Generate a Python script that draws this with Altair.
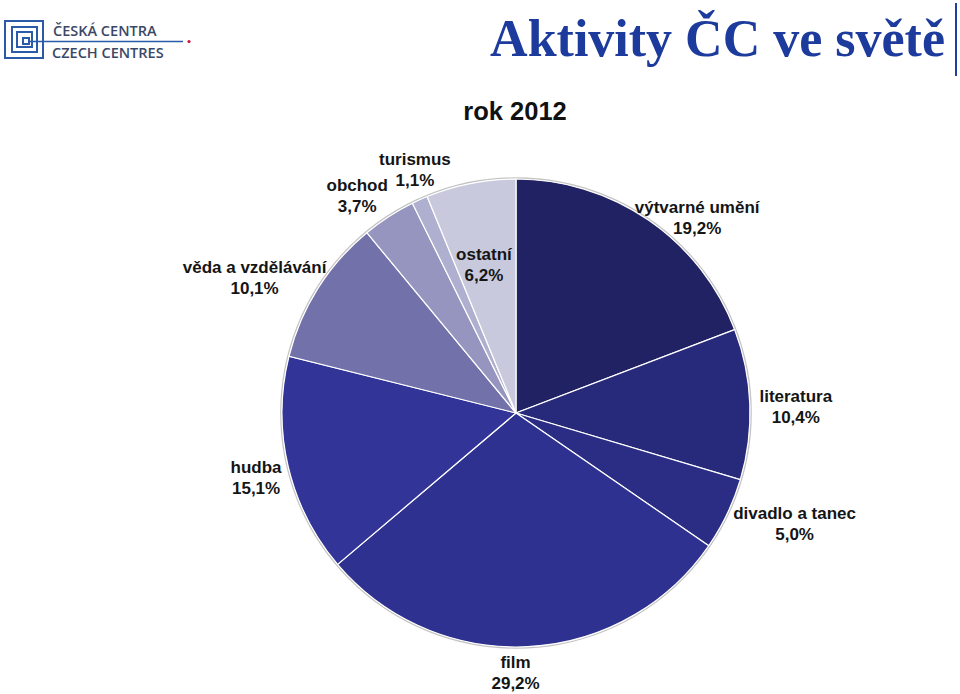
import altair as alt
import pandas as pd

# ---- data ----
categories = ["výtvarné umění", "literatura", "divadlo a tanec", "film", "hudba",
              "věda a vzdělávání", "obchod", "turismus", "ostatní"]
values = [19.2, 10.4, 5.0, 29.2, 15.1, 10.1, 3.7, 1.1, 6.2]
colors = ["#212263", "#27297A", "#2B2D85", "#2E318F", "#323498",
          "#7271A9", "#9595BF", "#AFAFD0", "#C9C9DD"]

title_text = "Aktivity ČC ve světě"
subtitle_text = "rok 2012"
logo_lines = ["ČESKÁ CENTRA", "CZECH CENTRES"]

df = pd.DataFrame({
    "category": categories,
    "value": values,
    "order": list(range(len(categories))),
    "label": [f"{c}\n{v:.1f}".replace(".", ",") + "%" for c, v in zip(categories, values)],
})

# ---- layout / style ----
W, H = 960, 694
CX, CY, R = 516, 413, 234
LABEL_FONT = "Liberation Sans"
LH = 21
# per-label placement: (radius, dx, dy) ; dy refers to block centre
label_place = {
    "výtvarné umění": (270, 28, 28),
    "literatura": (270, 10, 5),
    "divadlo a tanec": (270, 35, -5),
    "film": (270, -14, -9),
    "hudba": (270, 3, 4),
    "věda a vzdělávání": (270, -33, 9),
    "obchod": (270, -12, 10),
    "turismus": (270, 10, 4),
    "ostatní": (150, -3, 0),
}

theta_scale = alt.Scale(domain=[0, 100])

outline = alt.Chart(pd.DataFrame({"v": [100]})).mark_arc(
    outerRadius=R + 1, fill="#ffffff", stroke="#c4c4c4", strokeWidth=1.5
).encode(theta=alt.Theta("v:Q", scale=theta_scale), x=alt.value(CX), y=alt.value(CY))

pie = alt.Chart(df).mark_arc(outerRadius=R, stroke="white", strokeWidth=1.2).encode(
    theta=alt.Theta("value:Q", stack=True, scale=theta_scale),
    color=alt.Color("category:N", scale=alt.Scale(domain=categories, range=colors), legend=None),
    order=alt.Order("order:Q"),
    x=alt.value(CX), y=alt.value(CY),
)

label_layers = []
for cat in categories:
    rr, dx, dy = label_place[cat]
    lay = alt.Chart(df).transform_window(
        cum="sum(value)", sort=[alt.SortField("order")], frame=[None, 0]
    ).transform_calculate(
        mid="datum.cum - datum.value / 2"
    ).transform_filter(
        alt.datum.category == cat
    ).mark_text(
        radius=rr, dx=dx, dy=dy - LH / 2, lineBreak="\n", lineHeight=LH,
        font=LABEL_FONT, fontSize=17, fontWeight="bold", color="#151515",
        align="center", baseline="middle",
    ).encode(
        theta=alt.Theta("mid:Q", scale=theta_scale),
        text="label:N",
        x=alt.value(CX), y=alt.value(CY),
    )
    label_layers.append(lay)

one = pd.DataFrame({"a": [0]})

title = alt.Chart(one).mark_text(
    text=title_text, font="Liberation Serif", fontSize=52, fontWeight="bold",
    color="#1C3B9C", align="right", baseline="alphabetic",
).encode(x=alt.value(945), y=alt.value(56))

title_bar = alt.Chart(one).mark_rule(color="#1F3F9F", strokeWidth=2).encode(
    x=alt.value(956), y=alt.value(3), y2=alt.value(76))

subtitle = alt.Chart(one).mark_text(
    text=subtitle_text, font=LABEL_FONT, fontSize=25.5, fontWeight="bold", color="#111111",
    align="center", baseline="middle",
).encode(x=alt.value(515), y=alt.value(112))

# ---- logo ----
LOGO_BLUE = "#2B5BA8"
logo_sq = []
for (x1, y1, x2, y2) in [(5, 21, 43, 58), (12, 27, 37, 52), (17, 32, 32, 47), (23, 38, 29, 44)]:
    logo_sq.append(alt.Chart(one).mark_rect(filled=False, stroke=LOGO_BLUE, strokeWidth=2).encode(
        x=alt.value(x1), x2=alt.value(x2), y=alt.value(y1), y2=alt.value(y2)))
logo_line = alt.Chart(one).mark_rule(color=LOGO_BLUE, strokeWidth=1.5).encode(
    x=alt.value(29), x2=alt.value(183), y=alt.value(41.5))
logo_dot = alt.Chart(one).mark_point(filled=True, color="#D0103A", size=10, opacity=1).encode(
    x=alt.value(189), y=alt.value(41.5))
logo_t1 = alt.Chart(one).mark_text(
    text=logo_lines[0], font="Open Sans", fontSize=14.5, fontWeight=600, color="#3A4868",
    align="left", baseline="alphabetic").encode(x=alt.value(53), y=alt.value(35.5))
logo_t2 = alt.Chart(one).mark_text(
    text=logo_lines[1], font="Open Sans", fontSize=14.5, fontWeight=600, color="#3A4868",
    align="left", baseline="alphabetic").encode(x=alt.value(52), y=alt.value(58))

chart = alt.layer(
    outline, pie, *label_layers, title, title_bar, subtitle,
    *logo_sq, logo_line, logo_dot, logo_t1, logo_t2,
).properties(
    width=W, height=H, autosize=alt.AutoSizeParams(type="none"), padding=0,
    background="white",
).configure_view(stroke=None)

chart.save("out.html", embed_options={"renderer": "svg", "actions": False})
